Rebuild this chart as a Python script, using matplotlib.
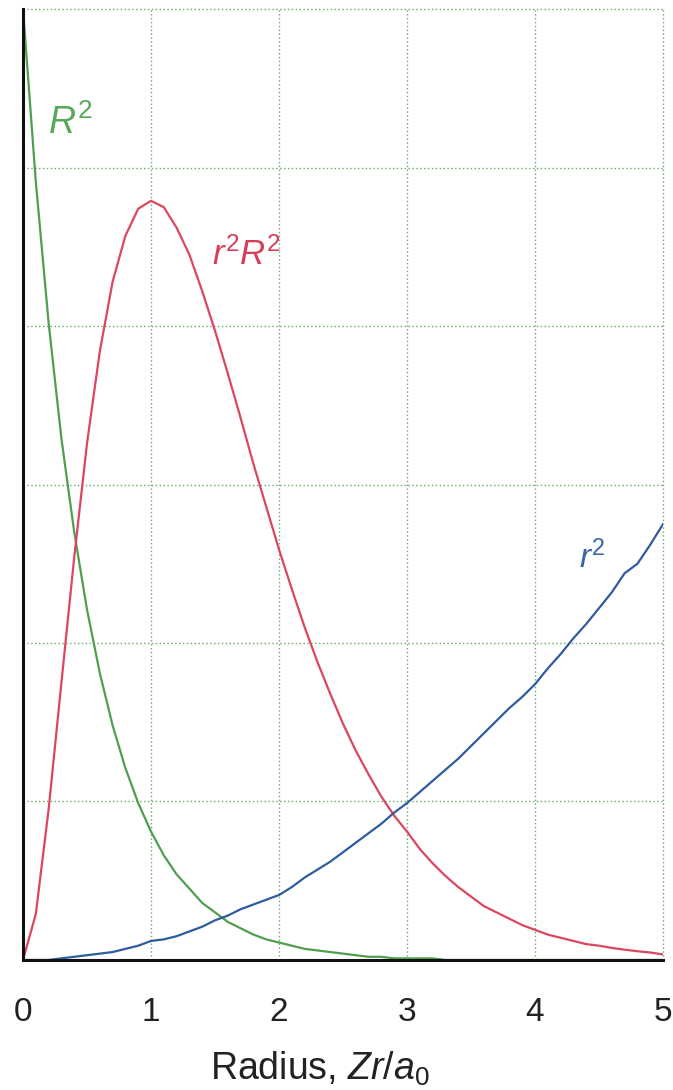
import numpy as np
import matplotlib
matplotlib.use('Agg')
import matplotlib.pyplot as plt

plt.rcParams['font.family'] = ['Liberation Sans', 'DejaVu Sans']
plt.rcParams['mathtext.fontset'] = 'custom'
plt.rcParams['mathtext.rm'] = 'Liberation Sans'
plt.rcParams['mathtext.it'] = 'Liberation Sans:italic'

# radius Zr/a0, sampled every 0.1
radius = [0.0, 0.1, 0.2, 0.3, 0.4, 0.5, 0.6, 0.7, 0.8, 0.9,
          1.0, 1.1, 1.2, 1.3, 1.4, 1.5, 1.6, 1.7, 1.8, 1.9,
          2.0, 2.1, 2.2, 2.3, 2.4, 2.5, 2.6, 2.7, 2.8, 2.9,
          3.0, 3.1, 3.2, 3.3, 3.4, 3.5, 3.6, 3.7, 3.8, 3.9,
          4.0, 4.1, 4.2, 4.3, 4.4, 4.5, 4.6, 4.7, 4.8, 4.9, 5.0]

# R^2 (green)
R2 = [6.00, 4.91, 4.02, 3.29, 2.70, 2.21, 1.81, 1.48, 1.21, 0.99,
      0.81, 0.66, 0.54, 0.45, 0.36, 0.30, 0.24, 0.20, 0.16, 0.13,
      0.11, 0.09, 0.07, 0.06, 0.05, 0.04, 0.03, 0.02, 0.02, 0.01,
      0.01, 0.01, 0.01, 0.0, 0.0, 0.0, 0.0, 0.0, 0.0, 0.0,
      0.0, 0.0, 0.0, 0.0, 0.0, 0.0, 0.0, 0.0, 0.0, 0.0, 0.0]

# r^2 R^2 (red)
r2R2 = [0.0, 0.29, 0.95, 1.75, 2.54, 3.26, 3.84, 4.28, 4.57, 4.74,
        4.79, 4.75, 4.62, 4.45, 4.22, 3.97, 3.70, 3.42, 3.13, 2.86,
        2.59, 2.34, 2.10, 1.88, 1.68, 1.49, 1.32, 1.17, 1.03, 0.91,
        0.81, 0.70, 0.61, 0.53, 0.46, 0.40, 0.34, 0.30, 0.26, 0.22,
        0.19, 0.16, 0.14, 0.12, 0.10, 0.09, 0.076, 0.065, 0.055, 0.047, 0.035]

# r^2 (blue)
r2 = [0.0, 0.0, 0.0, 0.01, 0.02, 0.03, 0.04, 0.05, 0.07, 0.09,
      0.12, 0.13, 0.15, 0.18, 0.21, 0.25, 0.28, 0.32, 0.35, 0.38,
      0.41, 0.46, 0.52, 0.57, 0.62, 0.68, 0.74, 0.80, 0.86, 0.93,
      0.99, 1.06, 1.13, 1.20, 1.27, 1.35, 1.43, 1.51, 1.59, 1.66,
      1.74, 1.84, 1.93, 2.03, 2.12, 2.22, 2.32, 2.44, 2.50, 2.62, 2.75]

green = '#4f9f4f'
red = '#db4660'
blue = '#2f5c9f'

fig = plt.figure(figsize=(6.73, 10.9), dpi=100)
ax = fig.add_axes([0.0342, 0.1193, 0.951, 0.8724])

ax.plot(radius, R2, color=green, lw=1.6, zorder=3)
ax.plot(radius, r2R2, color=red, lw=1.6, zorder=3)
ax.plot(radius, r2, color=blue, lw=1.6, zorder=3)

ax.text(0.37, 5.28, r'$R^2$', color='#5aa85a', fontsize=27, ha='center', va='center')
ax.text(1.75, 4.45, r'$r^2R^2$', color='#d63d58', fontsize=25, ha='center', va='center')
ax.text(4.45, 2.54, r'$r^2$', color='#3a66a6', fontsize=24, ha='center', va='center')

ax.set_xlim(0, 5)
ax.set_ylim(0, 6)
ax.set_xticks([0, 1, 2, 3, 4, 5])
ax.set_yticks([0, 1, 2, 3, 4, 5, 6])
ax.set_yticklabels([])
ax.tick_params(axis='both', length=0)
ax.tick_params(axis='x', pad=27, labelsize=24, labelcolor='#222222')
ax.grid(True, color='#62ad62', linestyle=(0, (1, 1.8)), lw=1.0)
# keep the edge grid lines (top and right) fully visible
for gl in ax.get_xgridlines() + ax.get_ygridlines():
    gl.set_clip_on(False)

for side in ['top', 'right']:
    ax.spines[side].set_visible(False)
for side in ['left', 'bottom']:
    ax.spines[side].set_color('#111111')
    ax.spines[side].set_linewidth(2.2)
    ax.spines[side].set_zorder(4)

ax.set_xlabel(r'Radius, $Zr/a_0$', fontsize=27, color='#222222')
ax.xaxis.set_label_coords(0.464, -0.094)

fig.savefig('out.png', dpi=100)
